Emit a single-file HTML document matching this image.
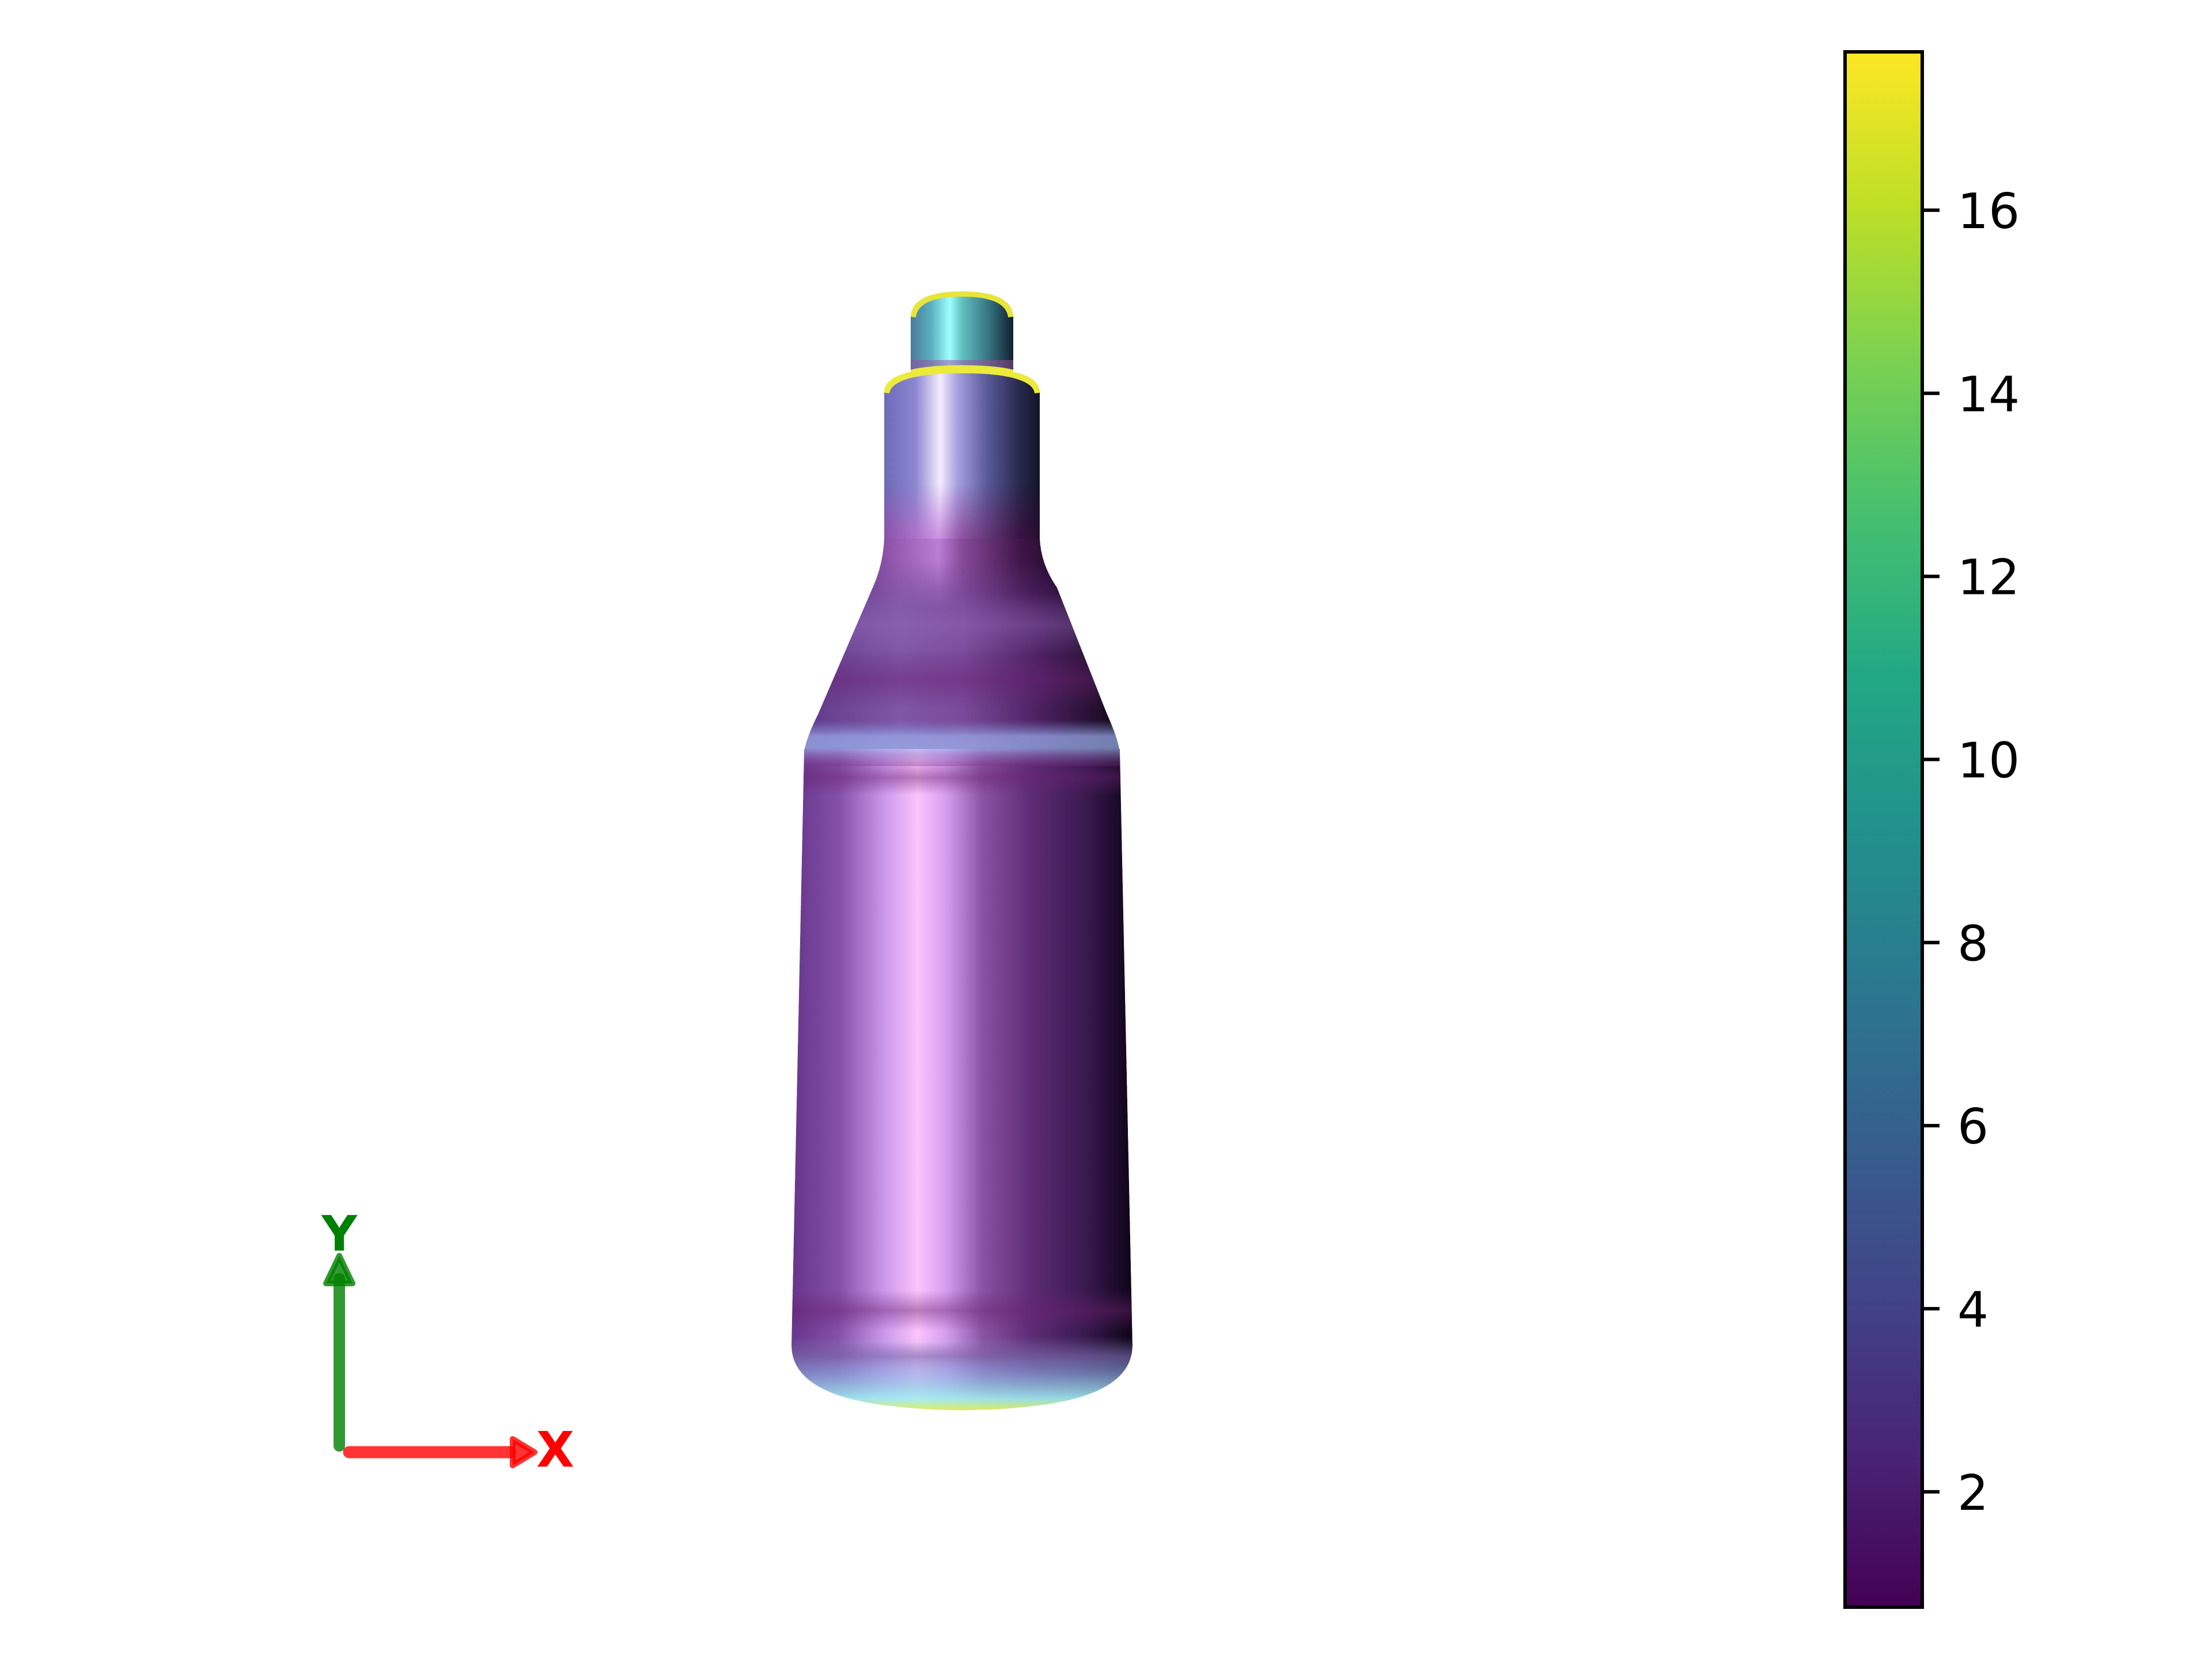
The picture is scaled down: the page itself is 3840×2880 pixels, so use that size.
<!DOCTYPE html>
<html><head><meta charset="utf-8"><style>
html,body{margin:0;padding:0;background:#fff}
svg{display:block}
text{font-family:"DejaVu Sans","Liberation Sans",sans-serif}
</style></head><body>
<svg id="chart" width="3840" height="2880" viewBox="0 0 3840 2880" xmlns="http://www.w3.org/2000/svg">
<defs>
<linearGradient id="gBody" x1="1374" x2="1966" y1="0" y2="0" gradientUnits="userSpaceOnUse">
<stop offset="0" stop-color="#66358a"/><stop offset="0.14" stop-color="#8450a8"/><stop offset="0.28" stop-color="#cf9cee"/>
<stop offset="0.37" stop-color="#fbc4fb"/><stop offset="0.45" stop-color="#d8a0f0"/><stop offset="0.56" stop-color="#8a52a2"/>
<stop offset="0.7" stop-color="#5e2c76"/><stop offset="0.86" stop-color="#3a1a50"/><stop offset="1" stop-color="#0e0418"/>
</linearGradient>
<linearGradient id="gNeck" x1="1535" x2="1805" y1="0" y2="0" gradientUnits="userSpaceOnUse">
<stop offset="0" stop-color="#6e6ab8"/><stop offset="0.2" stop-color="#8c86d0"/><stop offset="0.36" stop-color="#f4ecff"/>
<stop offset="0.47" stop-color="#a8a0e0"/><stop offset="0.66" stop-color="#5a5a9a"/><stop offset="0.86" stop-color="#2a2a50"/><stop offset="1" stop-color="#121428"/>
</linearGradient>
<linearGradient id="gNeckLow" x1="1500" x2="1840" y1="0" y2="0" gradientUnits="userSpaceOnUse">
<stop offset="0" stop-color="#7a3a90"/><stop offset="0.38" stop-color="#c888e0"/><stop offset="0.5" stop-color="#8a4a9a"/>
<stop offset="0.8" stop-color="#3a1040"/><stop offset="1" stop-color="#1a0820"/>
</linearGradient>
<linearGradient id="gNeckFade" x1="0" x2="0" y1="840" y2="1060" gradientUnits="userSpaceOnUse">
<stop offset="0" stop-color="#fff" stop-opacity="0"/><stop offset="0.4" stop-color="#fff" stop-opacity="0.85"/><stop offset="0.6" stop-color="#fff" stop-opacity="0.8"/><stop offset="1" stop-color="#fff" stop-opacity="0"/>
</linearGradient>
<mask id="neckMask"><rect x="1380" y="820" width="580" height="260" fill="url(#gNeckFade)"/></mask>
<linearGradient id="gShoulder" x1="1396" x2="1944" y1="0" y2="0" gradientUnits="userSpaceOnUse">
<stop offset="0" stop-color="#603a8a"/><stop offset="0.3" stop-color="#7f56a6"/><stop offset="0.5" stop-color="#7a4a9a"/>
<stop offset="0.75" stop-color="#4a2060"/><stop offset="1" stop-color="#120818"/>
</linearGradient>
<linearGradient id="gCap" x1="1581" x2="1759" y1="0" y2="0" gradientUnits="userSpaceOnUse">
<stop offset="0" stop-color="#4a7a9a"/><stop offset="0.2" stop-color="#5ab0c0"/><stop offset="0.38" stop-color="#a0ffff"/>
<stop offset="0.5" stop-color="#60c0c0"/><stop offset="0.74" stop-color="#3a7a88"/><stop offset="1" stop-color="#102030"/>
</linearGradient>
<linearGradient id="gBand" x1="0" x2="0" y1="0" y2="1">
<stop offset="0" stop-color="#7c8cd0" stop-opacity="0"/><stop offset="0.35" stop-color="#9cb0f0" stop-opacity="0.7"/>
<stop offset="0.6" stop-color="#a0c0f8" stop-opacity="0.65"/><stop offset="1" stop-color="#7a2a80" stop-opacity="0.3"/>
</linearGradient>
<linearGradient id="gDarkBand" x1="0" x2="0" y1="0" y2="1">
<stop offset="0" stop-color="#6a2070" stop-opacity="0"/><stop offset="0.5" stop-color="#6a2070" stop-opacity="0.45"/><stop offset="1" stop-color="#6a2070" stop-opacity="0"/>
</linearGradient>
<linearGradient id="gLightBand" x1="0" x2="0" y1="0" y2="1">
<stop offset="0" stop-color="#9a70c0" stop-opacity="0"/><stop offset="0.5" stop-color="#9a70c0" stop-opacity="0.35"/><stop offset="1" stop-color="#9a70c0" stop-opacity="0"/>
</linearGradient>
<linearGradient id="gBottom" x1="0" x2="0" y1="2320" y2="2452" gradientUnits="userSpaceOnUse">
<stop offset="0" stop-color="#8ab0e0" stop-opacity="0"/><stop offset="0.45" stop-color="#8aa8e0" stop-opacity="0.6"/>
<stop offset="0.82" stop-color="#9ff0f0" stop-opacity="0.9"/><stop offset="1" stop-color="#e8f040"/>
</linearGradient>
<clipPath id="bottleClip">
  <path d="M1581,646 L1581,550 Q1583,506 1670,506 Q1757,506 1759,550 L1759,646 Z"/>
  <path d="M1535,940 L1535,680 Q1537,638 1670,638 Q1803,638 1805,680 L1805,940 Z"/>
  <path d="M1535,900 L1535,935 Q1533,980 1515,1020 L1420,1240 Q1400,1280 1396,1305 L1944,1305 Q1940,1280 1922,1240 L1835,1020 Q1807,980 1805,935 L1805,900 Z"/>
  <path d="M1396,1300 L1944,1300 L1966,2335 Q1966,2420 1800,2440 Q1670,2456 1540,2440 Q1374,2420 1374,2335 Z"/>
</clipPath>
<linearGradient id="viridis" x1="0" x2="0" y1="1" y2="0">
<stop offset="0" stop-color="#440154"/><stop offset="0.1" stop-color="#482475"/><stop offset="0.2" stop-color="#414487"/>
<stop offset="0.3" stop-color="#355f8d"/><stop offset="0.4" stop-color="#2a788e"/><stop offset="0.5" stop-color="#21918c"/>
<stop offset="0.6" stop-color="#22a884"/><stop offset="0.7" stop-color="#44bf70"/><stop offset="0.8" stop-color="#7ad151"/>
<stop offset="0.9" stop-color="#bddf26"/><stop offset="1" stop-color="#fde725"/>
</linearGradient>
</defs>

<g clip-path="url(#bottleClip)">
  <path d="M1581,646 L1581,550 Q1583,506 1670,506 Q1757,506 1759,550 L1759,646 Z" fill="url(#gCap)"/>
  <path d="M1583,550 Q1588,508 1670,508 Q1752,508 1757,550" fill="none" stroke="#e8e43a" stroke-width="14"/>
  <rect x="1581" y="625" width="178" height="22" fill="#a04aa0" opacity="0.5"/>
  <path d="M1535,940 L1535,680 Q1537,638 1670,638 Q1803,638 1805,680 L1805,940 Z" fill="url(#gNeck)"/>
  <path d="M1537,682 Q1542,641 1670,641 Q1798,641 1803,682" fill="none" stroke="#ecea3a" stroke-width="14"/>
  <path d="M1535,935 Q1533,980 1515,1020 L1420,1240 Q1400,1280 1396,1305 L1944,1305 Q1940,1280 1922,1240 L1835,1020 Q1807,980 1805,935 Z" fill="url(#gShoulder)"/>
  <rect x="1380" y="820" width="580" height="260" fill="url(#gNeckLow)" mask="url(#neckMask)"/>
  <rect x="1390" y="1030" width="560" height="110" fill="url(#gLightBand)"/>
  <rect x="1390" y="1130" width="560" height="100" fill="url(#gDarkBand)"/>
  <path d="M1396,1300 L1944,1300 L1966,2335 Q1966,2420 1800,2440 Q1670,2456 1540,2440 Q1374,2420 1374,2335 Z" fill="url(#gBody)"/>
  <rect x="1370" y="1250" width="600" height="80" fill="url(#gBand)"/>
  <rect x="1370" y="1320" width="600" height="60" fill="url(#gDarkBand)"/>
  <rect x="1370" y="2240" width="600" height="70" fill="url(#gDarkBand)"/>
  <rect x="1370" y="2330" width="600" height="50" fill="url(#gDarkBand)"/>
  <rect x="1370" y="2320" width="600" height="140" fill="url(#gBottom)"/>
</g>

<g>
  <line x1="589" y1="2510" x2="589" y2="2220" stroke="rgba(0,128,0,0.8)" stroke-width="20" stroke-linecap="round"/>
  <polygon points="589,2180 566,2228 612,2228" fill="rgba(0,128,0,0.8)" stroke="rgba(0,128,0,0.8)" stroke-width="10" stroke-linejoin="round"/>
  <text x="589" y="2171" font-size="85" font-weight="bold" fill="#008000" text-anchor="middle">Y</text>
  <line x1="606" y1="2521" x2="885" y2="2521" stroke="rgba(255,0,0,0.8)" stroke-width="21" stroke-linecap="round"/>
  <polygon points="928,2521 890,2498 890,2544" fill="rgba(255,0,0,0.8)" stroke="rgba(255,0,0,0.8)" stroke-width="10" stroke-linejoin="round"/>
  <text x="964" y="2546" font-size="85" font-weight="bold" fill="#ff0000" text-anchor="middle">X</text>
</g>

<g id="colorbar">
  <rect x="3203" y="90" width="134" height="2700" fill="url(#viridis)" stroke="#000" stroke-width="6"/>
</g>
</svg>
<script>
const tickValues = [2, 4, 6, 8, 10, 12, 14, 16];
const tickLabels = ["2", "4", "6", "8", "10", "12", "14", "16"];
const colorRange = [0.74, 17.73];

const barTop = 90, barBottom = 2790, barRight = 3340;
function yScale(v) {
  return barBottom - (v - colorRange[0]) / (colorRange[1] - colorRange[0]) * (barBottom - barTop);
}
const NS = "http://www.w3.org/2000/svg";
const cb = document.getElementById("colorbar");
tickValues.forEach(function (v, i) {
  const y = yScale(v);
  const t = document.createElementNS(NS, "line");
  
  
  t.setAttribute("x1", barRight);
  t.setAttribute("x2", barRight + 27);
  t.setAttribute("y1", y);
  t.setAttribute("y2", y);
  t.setAttribute("stroke", "#000");
  t.setAttribute("stroke-width", "6");
  cb.appendChild(t);
  const lb = document.createElementNS(NS, "text");
  
  
  lb.setAttribute("x", 3398);
  lb.setAttribute("y", y + 31);
  lb.setAttribute("font-size", "85");
  lb.setAttribute("fill", "#000");
  lb.textContent = tickLabels[i];
  cb.appendChild(lb);
});
</script>
</body></html>
